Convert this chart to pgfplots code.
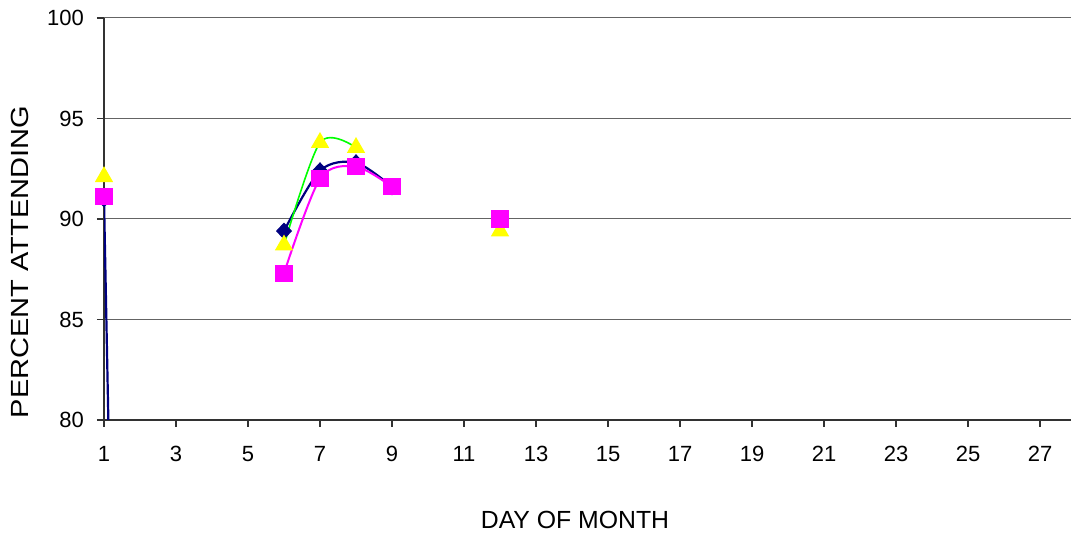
\documentclass[border=0pt]{standalone}
\usepackage{pgfplots}
\pgfplotsset{compat=1.18}
\usepackage{fontspec}
\setmainfont{Liberation Sans}
\definecolor{navyline}{RGB}{0,0,128}
\definecolor{pinkline}{RGB}{255,0,255}
\definecolor{greenline}{RGB}{0,255,0}
\definecolor{yellowmark}{RGB}{255,255,0}
\definecolor{gridgray}{RGB}{100,100,100}
\definecolor{axisgray}{RGB}{50,50,50}

\begin{document}
\begin{tikzpicture}
\useasboundingbox (0pt,0pt) rectangle (535.5pt,267.5pt);
\begin{axis}[
  at={(52pt,57.5pt)}, anchor=south west,
  scale only axis, width=483.5pt, height=201pt,
  xmin=1, xmax=27.86, ymin=80, ymax=100,
  xtick={1,3,...,27}, ytick={80,85,...,100},
  axis x line*=bottom, axis y line*=left,
  axis line style={axisgray, line width=0.8pt},
  tick align=outside, major tick length=3.5pt,
  tick style={axisgray, line width=0.6pt},
  ymajorgrids, grid style={gridgray, line width=0.5pt},
  ticklabel style={font=\fontsize{11}{13}\selectfont},
  xticklabel style={yshift=-6pt},
  yticklabel style={xshift=-3pt},
  /pgf/number format/assume math mode=true,
  unbounded coords=jump,
]
% navy diamonds
\addplot[navyline, line width=1.1pt, smooth, mark=diamond*,
  mark options={fill=navyline, draw=navyline, xscale=1.25, line width=0.5pt}, mark size=3.9pt]
  coordinates {(1,91.0) (2,0) (3,nan) (6,89.4) (7,92.4) (8,92.8) (9,91.6) (10,nan) (12,90.0)};
% yellow triangles, green line
\addplot[greenline, line width=0.8pt, smooth, mark=triangle*,
  mark options={fill=yellowmark, draw=yellowmark}, mark size=4.5pt]
  coordinates {(1,92.1) (2,nan) (6,88.7) (7,93.8) (8,93.55) (9,nan) (12,89.4)};
% magenta squares
\addplot[pinkline, line width=1pt, smooth, mark=square*,
  mark options={fill=pinkline, draw=pinkline}, mark size=3.8pt]
  coordinates {(1,91.1) (2,nan) (6,87.3) (7,92.0) (8,92.6) (9,91.6) (10,nan) (12,90.0)};
\end{axis}
\node[rotate=90, font=\fontsize{12.4}{14}\selectfont] at (10pt,136.5pt) {\scalebox{1.17}[1]{PERCENT ATTENDING}};
\node[font=\fontsize{12.4}{14}\selectfont] at (287.5pt,7.5pt) {DAY OF MONTH};
\end{tikzpicture}
\end{document}
